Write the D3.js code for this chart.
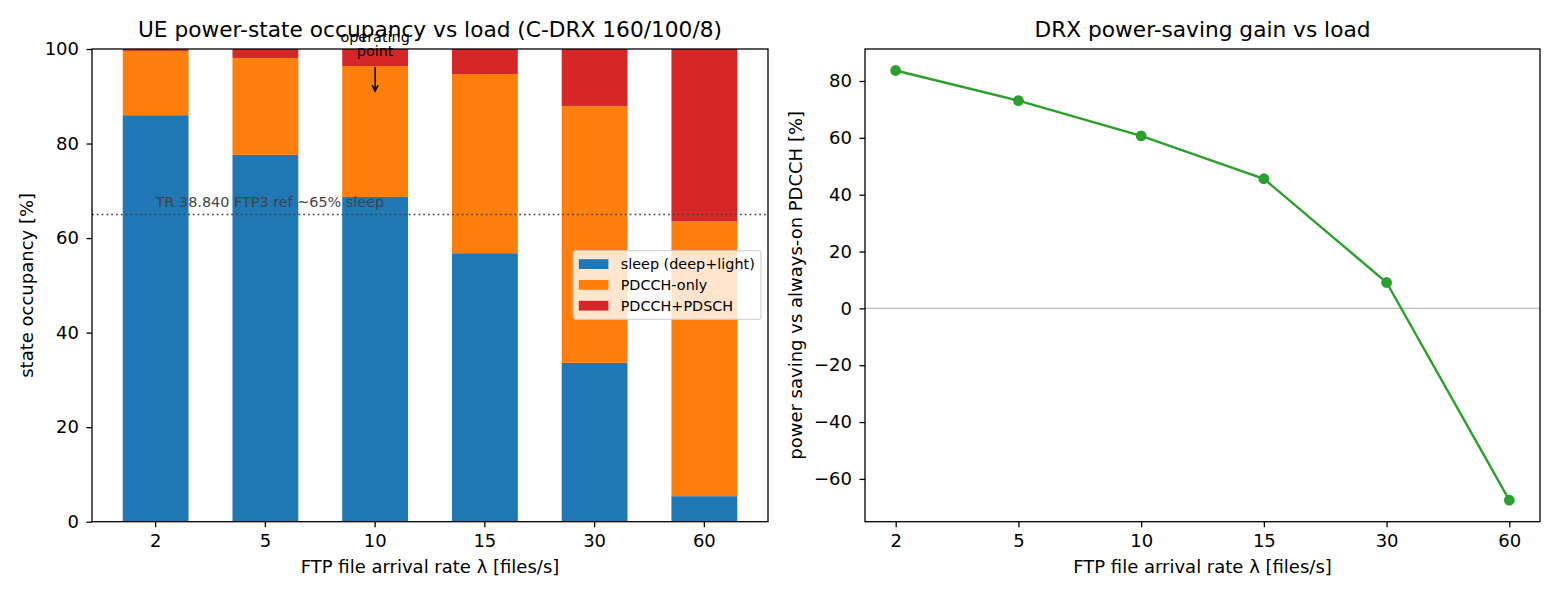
<!DOCTYPE html>
<html>
<head>
<meta charset="utf-8">
<script src="https://cdn.jsdelivr.net/npm/d3@7/dist/d3.min.js"></script>
<style>
body { margin:0; background:#fff; }
text { font-family: "DejaVu Sans", sans-serif; }
</style>
</head>
<body>
<div id="chart"></div>
<script>
// data
const rates = ["2", "5", "10", "15", "30", "60"]
const sleepPct = [86.0, 77.6, 68.7, 56.8, 33.6, 5.4]
const pdcchOnlyPct = [13.6, 20.5, 27.7, 37.9, 54.3, 58.1]
const pdschPct = [0.4, 1.9, 3.6, 5.3, 12.1, 36.5]
const savingPct = [83.7, 73.1, 60.7, 45.6, 9.1, -67.5]
const leftTicks = [0, 20, 40, 60, 80, 100]
const rightTicks = [-60, -40, -20, 0, 20, 40, 60, 80]
const stateKeys = ["sleep", "pdcchOnly", "pdsch"]
const stateNames = ["sleep (deep+light)", "PDCCH-only", "PDCCH+PDSCH"]
const stateColors = ["#1f77b4", "#ff7f0e", "#d62728"]
const refSleep = 65
const refLabel = "TR 38.840 FTP3 ref ~65% sleep"
const operatingRate = "10"
const operatingTip = 91.1

const W = 1560, H = 598
const plotTop = 49, plotH = 472.7
const leftX = 92, leftW = 676
const rightX = 865, rightW = 675
const tick = 5.5, pad = 7.5
const tickFont = "18px", labelFont = "18px", titleFont = "21.7px", smallFont = "14.4px"

let svg = d3.select("#chart").append("svg")
    .attr("width", W)
    .attr("height", H)

function frame(g, w) {
    g.append("rect")
        .attr("width", w).attr("height", plotH)
        .attr("fill", "none")
        .attr("stroke", "#000")
        .attr("stroke-width", 1.3)
}

function styleAxis(g) {
    g.select(".domain").remove()
    g.selectAll(".tick line").attr("stroke", "#000").attr("stroke-width", 1.3)
    g.selectAll(".tick text").attr("font-size", tickFont).attr("fill", "#000")
        .attr("font-family", "DejaVu Sans")
}

// ---------- left: stacked occupancy ----------
let left = svg.append("g").attr("transform", `translate(${leftX},${plotTop})`)

let rows = rates.map((r, i) => ({rate: r, sleep: sleepPct[i], pdcchOnly: pdcchOnlyPct[i], pdsch: pdschPct[i]}))
let stacked = d3.stack().keys(stateKeys)(rows)

let xBand = d3.scaleBand().domain(rates).range([0, leftW]).paddingInner(0.4).paddingOuter(0.28)
let yLeft = d3.scaleLinear().domain([0, 100]).range([plotH, 0])

left.selectAll(".layer")
    .data(stacked)
    .join("g")
    .attr("class", "layer")
    .attr("fill", (d, i) => stateColors[i])
    .selectAll("rect")
    .data(d => d)
    .join("rect")
    .attr("x", d => xBand(d.data.rate))
    .attr("width", xBand.bandwidth())
    .attr("y", d => yLeft(d[1]))
    .attr("height", d => yLeft(d[0]) - yLeft(d[1]))

// reference line
left.append("line")
    .attr("x1", 0).attr("x2", leftW)
    .attr("y1", yLeft(refSleep)).attr("y2", yLeft(refSleep))
    .attr("stroke", "#444")
    .attr("stroke-width", 1.6)
    .attr("stroke-dasharray", "1.8,3")
left.append("text")
    .attr("x", xBand(rates[0]) + xBand.bandwidth() / 2)
    .attr("y", yLeft(refSleep + 1.5))
    .attr("font-size", smallFont)
    .attr("fill", "#444")
    .text(refLabel)

// operating point annotation
let opX = xBand(operatingRate) + xBand.bandwidth() / 2
let tipY = yLeft(operatingTip), tailY = yLeft(96.2)
left.append("path")
    .attr("d", `M${opX},${tailY}V${tipY}M${opX - 3},${tipY - 6}L${opX},${tipY}L${opX + 3},${tipY - 6}`)
    .attr("fill", "none")
    .attr("stroke", "#000")
    .attr("stroke-width", 1.5)
left.append("text")
    .attr("x", opX).attr("y", tailY - 25)
    .attr("text-anchor", "middle")
    .attr("font-size", smallFont)
    .text("operating")
left.append("text")
    .attr("x", opX).attr("y", tailY - 10.5)
    .attr("text-anchor", "middle")
    .attr("font-size", smallFont)
    .text("point")

frame(left, leftW)

left.append("g")
    .attr("transform", `translate(0,${plotH})`)
    .call(d3.axisBottom(xBand).tickSize(tick).tickPadding(pad))
    .call(styleAxis)
left.append("g")
    .call(d3.axisLeft(yLeft).tickValues(leftTicks).tickSize(tick).tickPadding(pad))
    .call(styleAxis)

// legend
let legend = left.append("g").attr("transform", `translate(${573.3 - leftX},${250.7 - plotTop})`)
legend.append("rect")
    .attr("width", 187.7).attr("height", 68.6)
    .attr("rx", 2.8)
    .attr("fill", "#fff").attr("fill-opacity", 0.8)
    .attr("stroke", "#ccc").attr("stroke-opacity", 0.8)
    .attr("stroke-width", 1.3)
let entries = legend.selectAll(".entry")
    .data(stateNames)
    .join("g")
    .attr("class", "entry")
    .attr("transform", (d, i) => `translate(5.5,${8.5 + i * 20.8})`)
entries.append("rect")
    .attr("width", 29.6).attr("height", 9.8)
    .attr("fill", (d, i) => stateColors[i])
entries.append("text")
    .attr("x", 41.9).attr("y", 10)
    .attr("font-size", smallFont)
    .text(d => d)

left.append("text")
    .attr("x", leftW / 2).attr("y", -12)
    .attr("text-anchor", "middle")
    .attr("font-size", titleFont)
    .text("UE power-state occupancy vs load (C-DRX 160/100/8)")
left.append("text")
    .attr("x", leftW / 2).attr("y", plotH + 51.5)
    .attr("text-anchor", "middle")
    .attr("font-size", labelFont)
    .text("FTP file arrival rate λ [files/s]")
left.append("text")
    .attr("transform", `translate(${33 - leftX},${plotH / 2}) rotate(-90)`)
    .attr("text-anchor", "middle")
    .attr("font-size", labelFont)
    .text("state occupancy [%]")

// ---------- right: power saving ----------
let right = svg.append("g").attr("transform", `translate(${rightX},${plotTop})`)

let xPoint = d3.scalePoint().domain(rates).range([0, rightW]).padding(0.25)
let ext = d3.extent(savingPct)
let span = ext[1] - ext[0]
let yRight = d3.scaleLinear().domain([ext[0] - 0.05 * span, ext[1] + 0.05 * span]).range([plotH, 0])

right.append("line")
    .attr("x1", 0).attr("x2", rightW)
    .attr("y1", yRight(0)).attr("y2", yRight(0))
    .attr("stroke", "#bdbdbd")
    .attr("stroke-width", 1.4)

let pts = rates.map((r, i) => ({rate: r, v: savingPct[i]}))
right.append("path")
    .datum(pts)
    .attr("fill", "none")
    .attr("stroke", "#2ca02c")
    .attr("stroke-width", 2.4)
    .attr("d", d3.line().x(d => xPoint(d.rate)).y(d => yRight(d.v)))
right.selectAll(".pt")
    .data(pts)
    .join("circle")
    .attr("class", "pt")
    .attr("cx", d => xPoint(d.rate))
    .attr("cy", d => yRight(d.v))
    .attr("r", 5.4)
    .attr("fill", "#2ca02c")

frame(right, rightW)

right.append("g")
    .attr("transform", `translate(0,${plotH})`)
    .call(d3.axisBottom(xPoint).tickSize(tick).tickPadding(pad))
    .call(styleAxis)
right.append("g")
    .call(d3.axisLeft(yRight).tickValues(rightTicks).tickSize(tick).tickPadding(pad))
    .call(styleAxis)

right.append("text")
    .attr("x", rightW / 2).attr("y", -12)
    .attr("text-anchor", "middle")
    .attr("font-size", titleFont)
    .text("DRX power-saving gain vs load")
right.append("text")
    .attr("x", rightW / 2).attr("y", plotH + 51.5)
    .attr("text-anchor", "middle")
    .attr("font-size", labelFont)
    .text("FTP file arrival rate λ [files/s]")
right.append("text")
    .attr("transform", `translate(${802 - rightX},${plotH / 2}) rotate(-90)`)
    .attr("text-anchor", "middle")
    .attr("font-size", labelFont)
    .text("power saving vs always-on PDCCH [%]")
</script>
</body>
</html>
